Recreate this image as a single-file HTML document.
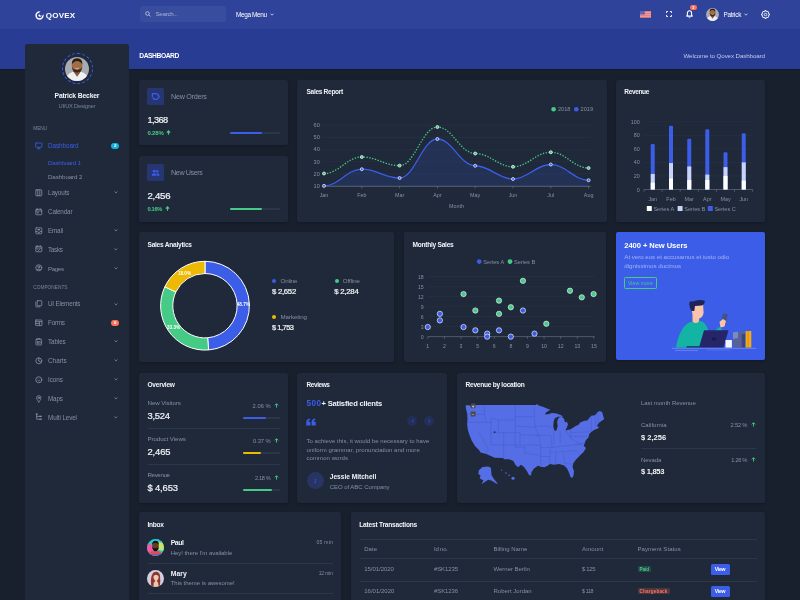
<!DOCTYPE html>
<html><head><meta charset="utf-8"><title>Qovex Dashboard</title>
<style>
html,body{margin:0;padding:0;}
body{width:800px;height:600px;overflow:hidden;background:#18202e;font-family:"Liberation Sans", sans-serif;position:relative;}
.t{position:absolute;white-space:nowrap;}
.b{position:absolute;}
svg{overflow:visible;}
svg text{font-family:"Liberation Sans", sans-serif;}
</style></head><body>
<header>
<div class="b" style="left:0px;top:0px;width:800px;height:68.8px;background:#283c94;"></div>
<div class="b" style="left:0px;top:0px;width:800px;height:28.5px;background:#2e4399;"></div>
<div class="b" style="left:0px;top:68.8px;width:800px;height:2.2px;background:linear-gradient(#121926,#18202e);"></div>
<svg class="b" style="left:34.5px;top:10.5px;" width="9" height="9" viewBox="0 0 9 9"><circle cx="4.5" cy="4.5" r="3.4" fill="none" stroke="#fff" stroke-width="1.5"/><circle cx="6.4" cy="2.4" r="2.3" fill="#2e4399"/><circle cx="5" cy="4.2" r="1.5" fill="#fff"/><circle cx="6" cy="3.3" r="1.4" fill="#2e4399"/></svg>
<div class="t" style="top:10px;height:12px;line-height:12px;font-size:8px;color:#fff;font-weight:700;letter-spacing:0.237px;left:45.8px;">QOVEX</div>
<div class="b" style="left:139.5px;top:6px;width:86.5px;height:16px;background:rgba(255,255,255,0.055);border-radius:2.5px;"></div>
<svg class="b" style="left:144.7px;top:11.4px;" width="6" height="6" viewBox="0 0 6 6"><circle cx="2.5" cy="2.5" r="1.8" fill="none" stroke="#c6cbe6" stroke-width="0.8"/><path d="M3.8 3.8L5.5 5.5" stroke="#c6cbe6" stroke-width="0.8"/></svg>
<div class="t" style="top:9px;height:10px;line-height:10px;font-size:6.2px;color:#a8b0dc;font-weight:400;letter-spacing:-0.289px;left:155.5px;">Search...</div>
<div class="t" style="top:10px;height:10px;line-height:10px;font-size:6.4px;color:#fff;font-weight:400;letter-spacing:-0.35px;left:236px;">Mega Menu</div>
<svg class="b" style="left:269.5px;top:13px;" width="4" height="3" viewBox="0 0 4 3"><path d="M0.5 0.7L2 2.2L3.5 0.7" fill="none" stroke="#fff" stroke-width="0.7"/></svg>
<svg class="b" style="left:640px;top:11px;" width="11" height="6.6" viewBox="0 0 11 6.6"><rect width="11" height="6.6" fill="#f2a6a6"/><rect y="0" width="11" height="0.9" fill="#e8706f"/><rect y="1.9" width="11" height="0.9" fill="#e8706f"/><rect y="3.8" width="11" height="0.9" fill="#e8706f"/><rect y="5.7" width="11" height="0.9" fill="#e8706f"/><rect width="4.8" height="3.6" fill="#5a67b8"/></svg>
<svg class="b" style="left:665.9px;top:11.1px;" width="6" height="6" viewBox="0 0 6 6"><path d="M0.5 2V0.5H2M4 0.5H5.5V2M5.5 4V5.5H4M2 5.5H0.5V4" fill="none" stroke="#fff" stroke-width="0.9"/></svg>
<svg class="b" style="left:685.5px;top:10.3px;" width="7" height="8.4" viewBox="0 0 7 8.4"><path d="M3.5 0.8C2 0.8 1.4 2 1.4 3.2V5L0.7 6.1H6.3L5.6 5V3.2C5.6 2 5 0.8 3.5 0.8Z" fill="none" stroke="#fff" stroke-width="1.1" stroke-linejoin="round"/><path d="M2.7 7.3Q3.5 8.1 4.3 7.3" stroke="#fff" stroke-width="0.9" fill="none"/></svg>
<div class="b" style="left:690.2px;top:5.3px;width:6.4px;height:4.6px;background:#ff715b;border-radius:2.3px;"></div>
<div class="t" style="top:4px;height:8px;line-height:8px;font-size:3.8px;color:#fff;font-weight:700;left:593.40px;width:200px;text-align:center;">3</div>
<div class="t" style="top:10px;height:10px;line-height:10px;font-size:6.4px;color:#fff;font-weight:400;letter-spacing:-0.26px;left:723.4px;">Patrick</div>
<svg class="b" style="left:744.3px;top:12.8px;" width="4" height="3" viewBox="0 0 4 3"><path d="M0.5 0.7L2 2.2L3.5 0.7" fill="none" stroke="#fff" stroke-width="0.7"/></svg>
<svg class="b" style="left:761px;top:9.7px;" width="9" height="9" viewBox="0 0 9 9"><path d="M7.40 3.73 L8.46 3.90 L8.46 5.10 L7.40 5.27 L7.10 6.00 L7.72 6.87 L6.87 7.72 L6.00 7.10 L5.27 7.40 L5.10 8.46 L3.90 8.46 L3.73 7.40 L3.00 7.10 L2.13 7.72 L1.28 6.87 L1.90 6.00 L1.60 5.27 L0.54 5.10 L0.54 3.90 L1.60 3.73 L1.90 3.00 L1.28 2.13 L2.13 1.28 L3.00 1.90 L3.73 1.60 L3.90 0.54 L5.10 0.54 L5.27 1.60 L6.00 1.90 L6.87 1.28 L7.72 2.13 L7.10 3.00Z" fill="none" stroke="#fff" stroke-width="0.95" stroke-linejoin="round"/><circle cx="4.5" cy="4.5" r="1.25" fill="none" stroke="#fff" stroke-width="0.8"/></svg>
<div class="t" style="top:50px;height:11px;line-height:11px;font-size:6.69px;color:#fff;font-weight:700;letter-spacing:-0.432px;left:139.3px;">DASHBOARD</div>
<div class="t" style="top:51px;height:10px;line-height:10px;font-size:6.2px;color:#c3c9ea;font-weight:400;letter-spacing:-0.103px;right:35.10px;text-align:right;">Welcome to Qovex Dashboard</div>
</header>
<aside>
<div class="b" style="left:25.2px;top:44.2px;width:103.5px;height:560px;background:#1f293a;border-radius:2.5px 2.5px 0 0;"></div>
<div class="b" style="left:61.5px;top:52.8px;width:31px;height:31px;box-sizing:border-box;border-radius:50%;border:1px dashed #3b5de7;"></div>
<svg class="b" style="left:65px;top:56.5px;" width="24" height="24" viewBox="0 0 24 24"><defs><clipPath id="cpa"><circle cx="12" cy="12" r="12"/></clipPath></defs><g clip-path="url(#cpa)"><rect width="24" height="24" fill="#a7abb2"/><path d="M0 24L1.2 19.2Q4.5 15.6 8.6 14.6L12.1 19.6L15.6 14.6Q19.6 15.6 22.8 19.2L24 24Z" fill="#eef0f3"/><path d="M8.4 14.4L12.1 19.8L15.8 14.4L15 11H9.2Z" fill="#8c5b3d"/><ellipse cx="12.1" cy="8.4" rx="5.3" ry="6.9" fill="#a36b46"/><path d="M6.8 7.4Q6.6 1.2 12.1 1.2Q17.6 1.2 17.4 7.4Q15.4 3.9 12.1 3.9Q8.8 3.9 6.8 7.4Z" fill="#2a1c15"/><path d="M6.9 9.4Q7.3 15.6 12.1 15.6Q16.9 15.6 17.3 9.4Q16 12.9 12.1 12.6Q8.2 12.9 6.9 9.4Z" fill="#3d281a"/><path d="M10.5 11.3Q12.1 12.7 13.7 11.3" stroke="#f2e8e0" stroke-width="0.8" fill="none"/></g></svg>
<svg class="b" style="left:705.9px;top:7.5px;" width="13" height="13" viewBox="0 0 24 24"><defs><clipPath id="cpb"><circle cx="12" cy="12" r="12"/></clipPath></defs><g clip-path="url(#cpb)"><rect width="24" height="24" fill="#a7abb2"/><path d="M0 24L1.2 19.2Q4.5 15.6 8.6 14.6L12.1 19.6L15.6 14.6Q19.6 15.6 22.8 19.2L24 24Z" fill="#eef0f3"/><path d="M8.4 14.4L12.1 19.8L15.8 14.4L15 11H9.2Z" fill="#8c5b3d"/><ellipse cx="12.1" cy="8.4" rx="5.3" ry="6.9" fill="#a36b46"/><path d="M6.8 7.4Q6.6 1.2 12.1 1.2Q17.6 1.2 17.4 7.4Q15.4 3.9 12.1 3.9Q8.8 3.9 6.8 7.4Z" fill="#2a1c15"/><path d="M6.9 9.4Q7.3 15.6 12.1 15.6Q16.9 15.6 17.3 9.4Q16 12.9 12.1 12.6Q8.2 12.9 6.9 9.4Z" fill="#3d281a"/><path d="M10.5 11.3Q12.1 12.7 13.7 11.3" stroke="#f2e8e0" stroke-width="0.8" fill="none"/></g></svg>
<div class="t" style="top:90px;height:11px;line-height:11px;font-size:6.8px;color:#f1f3f7;font-weight:700;letter-spacing:-0.174px;left:-23.09px;width:200px;text-align:center;">Patrick Becker</div>
<div class="t" style="top:101px;height:10px;line-height:10px;font-size:5.8px;color:#7a849a;font-weight:400;letter-spacing:-0.253px;left:-23.13px;width:200px;text-align:center;">UI/UX Designer</div>
<div class="t" style="top:124px;height:9px;line-height:9px;font-size:4.8px;color:#7a849a;font-weight:400;letter-spacing:-0.128px;left:33.3px;">MENU</div>
<div class="t" style="top:283px;height:9px;line-height:9px;font-size:4.8px;color:#7a849a;font-weight:400;letter-spacing:-0.017px;left:33.3px;">COMPONENTS</div>
<svg class="b" style="left:35.2px;top:141.7px;" width="7.6" height="7.6" viewBox="0 0 9 9"><rect x="0.8" y="1.2" width="7.4" height="5" rx="0.5" fill="none" stroke="#3b5de7" stroke-width="0.95" stroke-linejoin="round" stroke-linecap="round"/><path d="M3 8H6M4.5 6.3V8" fill="none" stroke="#3b5de7" stroke-width="0.95" stroke-linejoin="round" stroke-linecap="round"/></svg>
<div class="t" style="top:141px;height:10px;line-height:10px;font-size:6.3px;color:#3b5de7;font-weight:400;letter-spacing:-0.04px;left:48px;">Dashboard</div>
<svg class="b" style="left:35.2px;top:188.7px;" width="7.6" height="7.6" viewBox="0 0 9 9"><rect x="1" y="1" width="7" height="7" rx="0.4" fill="none" stroke="#8590a5" stroke-width="0.95" stroke-linejoin="round" stroke-linecap="round"/><path d="M3.3 1V8M5.7 1V8" fill="none" stroke="#8590a5" stroke-width="0.95" stroke-linejoin="round" stroke-linecap="round"/></svg>
<div class="t" style="top:188px;height:10px;line-height:10px;font-size:6.3px;color:#8590a5;font-weight:400;letter-spacing:-0.094px;left:48px;">Layouts</div>
<svg class="b" style="left:113.9px;top:191.3px;" width="3.8" height="3" viewBox="0 0 3.8 3"><path d="M0.5 0.5L1.9 1.9L3.3 0.5" fill="none" stroke="#76819a" stroke-width="0.95"/></svg>
<svg class="b" style="left:35.2px;top:207.5px;" width="7.6" height="7.6" viewBox="0 0 9 9"><rect x="1" y="1.6" width="7" height="6.4" rx="0.5" fill="none" stroke="#8590a5" stroke-width="0.95" stroke-linejoin="round" stroke-linecap="round"/><path d="M1 3.6H8M2.8 0.8V2M6.2 0.8V2" fill="none" stroke="#8590a5" stroke-width="0.95" stroke-linejoin="round" stroke-linecap="round"/><rect x="2.6" y="4.8" width="1.6" height="1.6" fill="#8590a5"/></svg>
<div class="t" style="top:207px;height:10px;line-height:10px;font-size:6.3px;color:#8590a5;font-weight:400;letter-spacing:-0.152px;left:48px;">Calendar</div>
<svg class="b" style="left:35.2px;top:226.5px;" width="7.6" height="7.6" viewBox="0 0 9 9"><rect x="1" y="1" width="7" height="7" rx="0.5" fill="none" stroke="#8590a5" stroke-width="0.95" stroke-linejoin="round" stroke-linecap="round"/><path d="M1 5.4H3L3.5 6.4H5.5L6 5.4H8" fill="none" stroke="#8590a5" stroke-width="0.95" stroke-linejoin="round" stroke-linecap="round"/><rect x="3" y="2.4" width="3" height="1.6" fill="#8590a5"/></svg>
<div class="t" style="top:226px;height:10px;line-height:10px;font-size:6.3px;color:#8590a5;font-weight:400;letter-spacing:-0.188px;left:48px;">Email</div>
<svg class="b" style="left:113.9px;top:229.10000000000002px;" width="3.8" height="3" viewBox="0 0 3.8 3"><path d="M0.5 0.5L1.9 1.9L3.3 0.5" fill="none" stroke="#76819a" stroke-width="0.95"/></svg>
<svg class="b" style="left:35.2px;top:245.39999999999998px;" width="7.6" height="7.6" viewBox="0 0 9 9"><rect x="1" y="1.6" width="7" height="6.4" rx="0.5" fill="none" stroke="#8590a5" stroke-width="0.95" stroke-linejoin="round" stroke-linecap="round"/><path d="M1 3.6H8M2.8 0.8V2M6.2 0.8V2M3.2 5.6L4.2 6.6L6 4.8" fill="none" stroke="#8590a5" stroke-width="0.95" stroke-linejoin="round" stroke-linecap="round"/></svg>
<div class="t" style="top:245px;height:10px;line-height:10px;font-size:6.3px;color:#8590a5;font-weight:400;letter-spacing:-0.276px;left:48px;">Tasks</div>
<svg class="b" style="left:113.9px;top:248.0px;" width="3.8" height="3" viewBox="0 0 3.8 3"><path d="M0.5 0.5L1.9 1.9L3.3 0.5" fill="none" stroke="#76819a" stroke-width="0.95"/></svg>
<svg class="b" style="left:35.2px;top:264.4px;" width="7.6" height="7.6" viewBox="0 0 9 9"><circle cx="4.5" cy="4.5" r="3.6" fill="none" stroke="#8590a5" stroke-width="0.95" stroke-linejoin="round" stroke-linecap="round"/><circle cx="4.5" cy="3.6" r="1.2" fill="none" stroke="#8590a5" stroke-width="0.95" stroke-linejoin="round" stroke-linecap="round"/><path d="M2.3 7Q4.5 4.6 6.7 7" fill="none" stroke="#8590a5" stroke-width="0.95" stroke-linejoin="round" stroke-linecap="round"/></svg>
<div class="t" style="top:264px;height:10px;line-height:10px;font-size:6.18px;color:#8590a5;font-weight:400;letter-spacing:-0.378px;left:48px;">Pages</div>
<svg class="b" style="left:113.9px;top:267.0px;" width="3.8" height="3" viewBox="0 0 3.8 3"><path d="M0.5 0.5L1.9 1.9L3.3 0.5" fill="none" stroke="#76819a" stroke-width="0.95"/></svg>
<svg class="b" style="left:35.2px;top:300.2px;" width="7.6" height="7.6" viewBox="0 0 9 9"><rect x="2.6" y="0.8" width="5.4" height="6" rx="0.5" fill="none" stroke="#8590a5" stroke-width="0.95" stroke-linejoin="round" stroke-linecap="round"/><path d="M1 2.4V7.6Q1 8.2 1.6 8.2H6" fill="none" stroke="#8590a5" stroke-width="0.95" stroke-linejoin="round" stroke-linecap="round"/></svg>
<div class="t" style="top:299px;height:10px;line-height:10px;font-size:6.3px;color:#8590a5;font-weight:400;letter-spacing:-0.181px;left:48px;">UI Elements</div>
<svg class="b" style="left:113.9px;top:302.8px;" width="3.8" height="3" viewBox="0 0 3.8 3"><path d="M0.5 0.5L1.9 1.9L3.3 0.5" fill="none" stroke="#76819a" stroke-width="0.95"/></svg>
<svg class="b" style="left:35.2px;top:318.9px;" width="7.6" height="7.6" viewBox="0 0 9 9"><rect x="0.8" y="1.2" width="7.4" height="6.6" rx="0.4" fill="none" stroke="#8590a5" stroke-width="0.95" stroke-linejoin="round" stroke-linecap="round"/><path d="M0.8 3.2H8.2M5.2 3.2V7.8M0.8 5.4H5.2" fill="none" stroke="#8590a5" stroke-width="0.95" stroke-linejoin="round" stroke-linecap="round"/></svg>
<div class="t" style="top:318px;height:10px;line-height:10px;font-size:6.3px;color:#8590a5;font-weight:400;letter-spacing:-0.212px;left:48px;">Forms</div>
<svg class="b" style="left:35.2px;top:337.8px;" width="7.6" height="7.6" viewBox="0 0 9 9"><rect x="1.2" y="1.4" width="6.6" height="6.8" rx="0.5" fill="none" stroke="#8590a5" stroke-width="0.95" stroke-linejoin="round" stroke-linecap="round"/><path d="M3 1.4V0.8H6V1.4M3 4V6.4M4.5 4V6.4M6 4V6.4" fill="none" stroke="#8590a5" stroke-width="0.95" stroke-linejoin="round" stroke-linecap="round"/></svg>
<div class="t" style="top:337px;height:10px;line-height:10px;font-size:6.3px;color:#8590a5;font-weight:400;letter-spacing:-0.092px;left:48px;">Tables</div>
<svg class="b" style="left:113.9px;top:340.40000000000003px;" width="3.8" height="3" viewBox="0 0 3.8 3"><path d="M0.5 0.5L1.9 1.9L3.3 0.5" fill="none" stroke="#76819a" stroke-width="0.95"/></svg>
<svg class="b" style="left:35.2px;top:356.7px;" width="7.6" height="7.6" viewBox="0 0 9 9"><circle cx="4.5" cy="4.5" r="3.5" fill="none" stroke="#8590a5" stroke-width="0.95" stroke-linejoin="round" stroke-linecap="round" stroke-width="1.2"/><path d="M4.5 4.5V1M4.5 4.5L7.2 6.6" fill="none" stroke="#8590a5" stroke-width="0.95" stroke-linejoin="round" stroke-linecap="round"/></svg>
<div class="t" style="top:356px;height:10px;line-height:10px;font-size:6.3px;color:#8590a5;font-weight:400;letter-spacing:0.039px;left:48px;">Charts</div>
<svg class="b" style="left:113.9px;top:359.3px;" width="3.8" height="3" viewBox="0 0 3.8 3"><path d="M0.5 0.5L1.9 1.9L3.3 0.5" fill="none" stroke="#76819a" stroke-width="0.95"/></svg>
<svg class="b" style="left:35.2px;top:375.59999999999997px;" width="7.6" height="7.6" viewBox="0 0 9 9"><circle cx="4.5" cy="4.5" r="3.6" fill="none" stroke="#8590a5" stroke-width="0.95" stroke-linejoin="round" stroke-linecap="round"/><path d="M2.8 5.2Q4.5 7.2 6.2 5.2Z" fill="#8590a5" stroke="none"/><circle cx="3.2" cy="3.6" r="0.5" fill="#8590a5"/><circle cx="5.8" cy="3.6" r="0.5" fill="#8590a5"/></svg>
<div class="t" style="top:375px;height:10px;line-height:10px;font-size:6.3px;color:#8590a5;font-weight:400;letter-spacing:-0.014px;left:48px;">Icons</div>
<svg class="b" style="left:113.9px;top:378.2px;" width="3.8" height="3" viewBox="0 0 3.8 3"><path d="M0.5 0.5L1.9 1.9L3.3 0.5" fill="none" stroke="#76819a" stroke-width="0.95"/></svg>
<svg class="b" style="left:35.2px;top:394.5px;" width="7.6" height="7.6" viewBox="0 0 9 9"><path d="M4.5 8.3C4.5 8.3 1.9 5.4 1.9 3.4A2.6 2.6 0 0 1 7.1 3.4C7.1 5.4 4.5 8.3 4.5 8.3Z" fill="none" stroke="#8590a5" stroke-width="0.95" stroke-linejoin="round" stroke-linecap="round"/><circle cx="4.5" cy="3.4" r="0.9" fill="none" stroke="#8590a5" stroke-width="0.95" stroke-linejoin="round" stroke-linecap="round"/></svg>
<div class="t" style="top:394px;height:10px;line-height:10px;font-size:6.3px;color:#8590a5;font-weight:400;letter-spacing:-0.135px;left:48px;">Maps</div>
<svg class="b" style="left:113.9px;top:397.1px;" width="3.8" height="3" viewBox="0 0 3.8 3"><path d="M0.5 0.5L1.9 1.9L3.3 0.5" fill="none" stroke="#76819a" stroke-width="0.95"/></svg>
<svg class="b" style="left:35.2px;top:413.4px;" width="7.6" height="7.6" viewBox="0 0 9 9"><path d="M2 1V7.4H4.6M2 4H4.6" fill="none" stroke="#8590a5" stroke-width="0.95" stroke-linejoin="round" stroke-linecap="round"/><rect x="1" y="0.6" width="2" height="1.6" fill="#8590a5"/><rect x="5" y="3.2" width="3" height="1.6" fill="#8590a5"/><rect x="5" y="6.6" width="3" height="1.6" fill="#8590a5"/></svg>
<div class="t" style="top:413px;height:10px;line-height:10px;font-size:6.3px;color:#8590a5;font-weight:400;letter-spacing:-0.111px;left:48px;">Multi Level</div>
<svg class="b" style="left:113.9px;top:416.0px;" width="3.8" height="3" viewBox="0 0 3.8 3"><path d="M0.5 0.5L1.9 1.9L3.3 0.5" fill="none" stroke="#76819a" stroke-width="0.95"/></svg>
<div class="t" style="top:158px;height:10px;line-height:10px;font-size:6.2px;color:#3b5de7;font-weight:400;letter-spacing:-0.25px;left:48px;">Dashboard 1</div>
<div class="t" style="top:172px;height:10px;line-height:10px;font-size:6.2px;color:#8590a5;font-weight:400;letter-spacing:-0.1px;left:48px;">Dashboard 2</div>
<div class="b" style="left:111.2px;top:142.6px;width:8.2px;height:6px;background:#12b0e2;border-radius:3px;"></div>
<div class="t" style="top:142px;height:8px;line-height:8px;font-size:4.4px;color:#fff;font-weight:700;left:15.30px;width:200px;text-align:center;">2</div>
<div class="b" style="left:111.2px;top:319.8px;width:8.2px;height:6px;background:#ff715b;border-radius:3px;"></div>
<div class="t" style="top:319px;height:8px;line-height:8px;font-size:4.4px;color:#fff;font-weight:700;left:15.30px;width:200px;text-align:center;">6</div>
</aside>
<main><section>
<div class="b" style="left:139.25px;top:80px;width:149px;height:65.2px;background:#1f293a;border-radius:2px;box-shadow:0 1px 2.5px rgba(8,12,20,0.35);"></div>
<div class="b" style="left:147.3px;top:88px;width:16.6px;height:16.6px;background:#273572;border-radius:1.5px;"></div>
<svg class="b" style="left:151px;top:91.8px;" width="9" height="9" viewBox="0 0 8 8"><path d="M1.2 1.4H5.2L7.4 4L5.2 6.6H2.6" fill="none" stroke="#3b5de7" stroke-width="1.1" stroke-linejoin="round"/><path d="M1.2 1.4V4.6" stroke="#3b5de7" stroke-width="1.1"/><circle cx="2.2" cy="5.8" r="0.9" fill="#3b5de7"/></svg>
<div class="t" style="top:91px;height:11px;line-height:11px;font-size:7.2px;color:#8590a5;font-weight:400;letter-spacing:-0.268px;left:171px;">New Orders</div>
<div class="t" style="top:114px;height:13px;line-height:13px;font-size:9.21px;color:#f1f3f7;font-weight:400;letter-spacing:-0.576px;left:147.5px;-webkit-text-stroke:0.22px #f1f3f7;">1,368</div>
<div class="t" style="top:128px;height:10px;line-height:10px;font-size:6px;color:#45cb85;font-weight:700;letter-spacing:-0.191px;left:147.5px;">0.28%</div>
<svg class="b" style="left:165.95px;top:130.4px;" width="5" height="5" viewBox="0 0 5 5"><path d="M2.5 4.7V1M0.8 2.6L2.5 0.9L4.2 2.6" fill="none" stroke="#45cb85" stroke-width="1.15"/></svg>
<div class="b" style="left:230px;top:132px;width:50px;height:2px;background:#2b3648;border-radius:1px;"></div>
<div class="b" style="left:230px;top:132px;width:31.5px;height:2px;background:#3b5de7;border-radius:1px;"></div>
<div class="b" style="left:139.25px;top:156.3px;width:149px;height:65.9px;background:#1f293a;border-radius:2px;box-shadow:0 1px 2.5px rgba(8,12,20,0.35);"></div>
<div class="b" style="left:147.3px;top:164px;width:16.6px;height:16.6px;background:#273572;border-radius:1.5px;"></div>
<svg class="b" style="left:151px;top:167.8px;" width="9" height="9" viewBox="0 0 8 8"><circle cx="2.8" cy="2.8" r="1.3" fill="#3b5de7"/><circle cx="5.6" cy="2.8" r="1.1" fill="#3b5de7"/><path d="M0.6 6.8Q0.6 4.6 2.8 4.6Q5 4.6 5 6.8Z" fill="#3b5de7"/><path d="M5.4 6.8Q5.6 5 4.8 4.6Q7.6 4.2 7.6 6.8Z" fill="#3b5de7"/></svg>
<div class="t" style="top:167px;height:11px;line-height:11px;font-size:7.2px;color:#8590a5;font-weight:400;letter-spacing:-0.401px;left:171px;">New Users</div>
<div class="t" style="top:189px;height:14px;line-height:14px;font-size:9.6px;color:#f1f3f7;font-weight:400;letter-spacing:-0.256px;left:147.5px;-webkit-text-stroke:0.22px #f1f3f7;">2,456</div>
<div class="t" style="top:204px;height:10px;line-height:10px;font-size:5.8px;color:#45cb85;font-weight:700;letter-spacing:-0.36px;left:147.5px;">0.16%</div>
<svg class="b" style="left:164.7px;top:206.4px;" width="5" height="5" viewBox="0 0 5 5"><path d="M2.5 4.7V1M0.8 2.6L2.5 0.9L4.2 2.6" fill="none" stroke="#45cb85" stroke-width="1.15"/></svg>
<div class="b" style="left:230px;top:208px;width:50px;height:2px;background:#2b3648;border-radius:1px;"></div>
<div class="b" style="left:230px;top:208px;width:31.5px;height:2px;background:#45cb85;border-radius:1px;"></div>
<div class="b" style="left:297.25px;top:80px;width:309.25px;height:142.2px;background:#1f293a;border-radius:2px;box-shadow:0 1px 2.5px rgba(8,12,20,0.35);"></div>
<div class="t" style="top:86px;height:11px;line-height:11px;font-size:6.6px;color:#f1f3f7;font-weight:700;letter-spacing:-0.327px;left:306.5px;">Sales Report</div>
<svg class="b" style="left:0px;top:0px;" width="800" height="600" viewBox="0 0 800 600"><line x1="322" x2="590.5" y1="186.00" y2="186.00" stroke="#2c3749" stroke-width="0.5"/><text x="319.8" y="188.00" font-size="5.6" fill="#8590a5" text-anchor="end">10</text><line x1="322" x2="590.5" y1="173.83" y2="173.83" stroke="#2c3749" stroke-width="0.5"/><text x="319.8" y="175.83" font-size="5.6" fill="#8590a5" text-anchor="end">20</text><line x1="322" x2="590.5" y1="161.66" y2="161.66" stroke="#2c3749" stroke-width="0.5"/><text x="319.8" y="163.66" font-size="5.6" fill="#8590a5" text-anchor="end">30</text><line x1="322" x2="590.5" y1="149.49" y2="149.49" stroke="#2c3749" stroke-width="0.5"/><text x="319.8" y="151.49" font-size="5.6" fill="#8590a5" text-anchor="end">40</text><line x1="322" x2="590.5" y1="137.32" y2="137.32" stroke="#2c3749" stroke-width="0.5"/><text x="319.8" y="139.32" font-size="5.6" fill="#8590a5" text-anchor="end">50</text><line x1="322" x2="590.5" y1="125.15" y2="125.15" stroke="#2c3749" stroke-width="0.5"/><text x="319.8" y="127.15" font-size="5.6" fill="#8590a5" text-anchor="end">60</text><line x1="322" x2="590.5" y1="186.3" y2="186.3" stroke="#7f8798" stroke-width="0.6"/><line x1="324.00" x2="324.00" y1="186.3" y2="188.5" stroke="#7f8798" stroke-width="0.5"/><text x="324.00" y="197.2" font-size="5.4" fill="#8590a5" text-anchor="middle">Jan</text><line x1="361.80" x2="361.80" y1="186.3" y2="188.5" stroke="#7f8798" stroke-width="0.5"/><text x="361.80" y="197.2" font-size="5.4" fill="#8590a5" text-anchor="middle">Feb</text><line x1="399.60" x2="399.60" y1="186.3" y2="188.5" stroke="#7f8798" stroke-width="0.5"/><text x="399.60" y="197.2" font-size="5.4" fill="#8590a5" text-anchor="middle">Mar</text><line x1="437.40" x2="437.40" y1="186.3" y2="188.5" stroke="#7f8798" stroke-width="0.5"/><text x="437.40" y="197.2" font-size="5.4" fill="#8590a5" text-anchor="middle">Apr</text><line x1="475.20" x2="475.20" y1="186.3" y2="188.5" stroke="#7f8798" stroke-width="0.5"/><text x="475.20" y="197.2" font-size="5.4" fill="#8590a5" text-anchor="middle">May</text><line x1="513.00" x2="513.00" y1="186.3" y2="188.5" stroke="#7f8798" stroke-width="0.5"/><text x="513.00" y="197.2" font-size="5.4" fill="#8590a5" text-anchor="middle">Jun</text><line x1="550.80" x2="550.80" y1="186.3" y2="188.5" stroke="#7f8798" stroke-width="0.5"/><text x="550.80" y="197.2" font-size="5.4" fill="#8590a5" text-anchor="middle">Jul</text><line x1="588.60" x2="588.60" y1="186.3" y2="188.5" stroke="#7f8798" stroke-width="0.5"/><text x="588.60" y="197.2" font-size="5.4" fill="#8590a5" text-anchor="middle">Aug</text><text x="456.5" y="208" font-size="5.4" fill="#8590a5" text-anchor="middle">Month</text><path d="M324.00 185.80 C339.12 185.80 346.68 169.20 361.80 169.20 C376.92 169.20 384.48 178.00 399.60 178.00 C414.72 178.00 422.28 139.00 437.40 139.00 C452.52 139.00 460.08 165.75 475.20 165.75 C490.32 165.75 497.88 179.00 513.00 179.00 C528.12 179.00 535.68 164.50 550.80 164.50 C565.92 164.50 573.48 180.25 588.60 180.25 L588.60 186 L324.00 186 Z" fill="rgba(59,93,231,0.16)"/><path d="M324.00 185.80 C339.12 185.80 346.68 169.20 361.80 169.20 C376.92 169.20 384.48 178.00 399.60 178.00 C414.72 178.00 422.28 139.00 437.40 139.00 C452.52 139.00 460.08 165.75 475.20 165.75 C490.32 165.75 497.88 179.00 513.00 179.00 C528.12 179.00 535.68 164.50 550.80 164.50 C565.92 164.50 573.48 180.25 588.60 180.25" fill="none" stroke="#3b5de7" stroke-width="1.3"/><path d="M324.00 173.50 C339.12 173.50 346.68 157.00 361.80 157.00 C376.92 157.00 384.48 165.60 399.60 165.60 C414.72 165.60 422.28 127.00 437.40 127.00 C452.52 127.00 460.08 153.50 475.20 153.50 C490.32 153.50 497.88 166.75 513.00 166.75 C528.12 166.75 535.68 152.25 550.80 152.25 C565.92 152.25 573.48 168.00 588.60 168.00" fill="none" stroke="#45cb85" stroke-width="1.3" stroke-dasharray="1.4 1.5"/><circle cx="324.00" cy="185.80" r="1.5" fill="#3b5de7" stroke="#fff" stroke-width="0.7"/><circle cx="361.80" cy="169.20" r="1.5" fill="#3b5de7" stroke="#fff" stroke-width="0.7"/><circle cx="399.60" cy="178.00" r="1.5" fill="#3b5de7" stroke="#fff" stroke-width="0.7"/><circle cx="437.40" cy="139.00" r="1.5" fill="#3b5de7" stroke="#fff" stroke-width="0.7"/><circle cx="475.20" cy="165.75" r="1.5" fill="#3b5de7" stroke="#fff" stroke-width="0.7"/><circle cx="513.00" cy="179.00" r="1.5" fill="#3b5de7" stroke="#fff" stroke-width="0.7"/><circle cx="550.80" cy="164.50" r="1.5" fill="#3b5de7" stroke="#fff" stroke-width="0.7"/><circle cx="588.60" cy="180.25" r="1.5" fill="#3b5de7" stroke="#fff" stroke-width="0.7"/><circle cx="324.00" cy="173.50" r="1.5" fill="#45cb85" stroke="#fff" stroke-width="0.7"/><circle cx="361.80" cy="157.00" r="1.5" fill="#45cb85" stroke="#fff" stroke-width="0.7"/><circle cx="399.60" cy="165.60" r="1.5" fill="#45cb85" stroke="#fff" stroke-width="0.7"/><circle cx="437.40" cy="127.00" r="1.5" fill="#45cb85" stroke="#fff" stroke-width="0.7"/><circle cx="475.20" cy="153.50" r="1.5" fill="#45cb85" stroke="#fff" stroke-width="0.7"/><circle cx="513.00" cy="166.75" r="1.5" fill="#45cb85" stroke="#fff" stroke-width="0.7"/><circle cx="550.80" cy="152.25" r="1.5" fill="#45cb85" stroke="#fff" stroke-width="0.7"/><circle cx="588.60" cy="168.00" r="1.5" fill="#45cb85" stroke="#fff" stroke-width="0.7"/><circle cx="553.6" cy="109.3" r="2.3" fill="#45cb85"/><text x="558" y="111.3" font-size="5.6" fill="#8590a5">2018</text><circle cx="576.3" cy="109.3" r="2.3" fill="#3b5de7"/><text x="580.6" y="111.3" font-size="5.6" fill="#8590a5">2019</text></svg>
<div class="b" style="left:615.5px;top:80px;width:149.5px;height:142.2px;background:#1f293a;border-radius:2px;box-shadow:0 1px 2.5px rgba(8,12,20,0.35);"></div>
<div class="t" style="top:86px;height:11px;line-height:11px;font-size:6.57px;color:#f1f3f7;font-weight:700;letter-spacing:-0.396px;left:624.3px;">Revenue</div>
<svg class="b" style="left:0px;top:0px;" width="800" height="600" viewBox="0 0 800 600"><line x1="644" x2="752.5" y1="189.50" y2="189.50" stroke="#7f8798" stroke-width="0.5"/><text x="639.7" y="191.50" font-size="5.4" fill="#8590a5" text-anchor="end">0</text><line x1="644" x2="752.5" y1="175.95" y2="175.95" stroke="#2c3749" stroke-width="0.5"/><text x="639.7" y="177.95" font-size="5.4" fill="#8590a5" text-anchor="end">20</text><line x1="644" x2="752.5" y1="162.40" y2="162.40" stroke="#2c3749" stroke-width="0.5"/><text x="639.7" y="164.40" font-size="5.4" fill="#8590a5" text-anchor="end">40</text><line x1="644" x2="752.5" y1="148.85" y2="148.85" stroke="#2c3749" stroke-width="0.5"/><text x="639.7" y="150.85" font-size="5.4" fill="#8590a5" text-anchor="end">60</text><line x1="644" x2="752.5" y1="135.30" y2="135.30" stroke="#2c3749" stroke-width="0.5"/><text x="639.7" y="137.30" font-size="5.4" fill="#8590a5" text-anchor="end">80</text><line x1="644" x2="752.5" y1="121.75" y2="121.75" stroke="#2c3749" stroke-width="0.5"/><text x="639.7" y="123.75" font-size="5.4" fill="#8590a5" text-anchor="end">100</text><rect x="650.75" y="144.11" width="4" height="45.39" rx="1.2" fill="#3b5de7"/><rect x="650.75" y="173.92" width="4" height="15.58" fill="#c9d3f8"/><rect x="650.75" y="182.72" width="4" height="6.78" fill="#ffffff"/><text x="652.75" y="201" font-size="5.4" fill="#8590a5" text-anchor="middle">Jan</text><rect x="669.00" y="125.81" width="4" height="63.69" rx="1.2" fill="#3b5de7"/><rect x="669.00" y="163.08" width="4" height="26.42" fill="#c9d3f8"/><rect x="669.00" y="178.66" width="4" height="10.84" fill="#ffffff"/><text x="671.00" y="201" font-size="5.4" fill="#8590a5" text-anchor="middle">Feb</text><rect x="687.25" y="138.69" width="4" height="50.81" rx="1.2" fill="#3b5de7"/><rect x="687.25" y="166.47" width="4" height="23.04" fill="#c9d3f8"/><rect x="687.25" y="180.01" width="4" height="9.48" fill="#ffffff"/><text x="689.25" y="201" font-size="5.4" fill="#8590a5" text-anchor="middle">Mar</text><rect x="705.30" y="129.20" width="4" height="60.30" rx="1.2" fill="#3b5de7"/><rect x="705.30" y="174.59" width="4" height="14.90" fill="#c9d3f8"/><rect x="705.30" y="180.01" width="4" height="9.48" fill="#ffffff"/><text x="707.30" y="201" font-size="5.4" fill="#8590a5" text-anchor="middle">Apr</text><rect x="723.50" y="152.24" width="4" height="37.26" rx="1.2" fill="#3b5de7"/><rect x="723.50" y="167.14" width="4" height="22.36" fill="#c9d3f8"/><rect x="723.50" y="175.95" width="4" height="13.55" fill="#ffffff"/><text x="725.50" y="201" font-size="5.4" fill="#8590a5" text-anchor="middle">May</text><rect x="741.75" y="133.27" width="4" height="56.23" rx="1.2" fill="#3b5de7"/><rect x="741.75" y="162.40" width="4" height="27.10" fill="#c9d3f8"/><rect x="741.75" y="180.69" width="4" height="8.81" fill="#ffffff"/><text x="743.75" y="201" font-size="5.4" fill="#8590a5" text-anchor="middle">Jun</text><line x1="644.00" x2="644.00" y1="189.5" y2="191.8" stroke="#7f8798" stroke-width="0.5"/><line x1="662.10" x2="662.10" y1="189.5" y2="191.8" stroke="#7f8798" stroke-width="0.5"/><line x1="680.20" x2="680.20" y1="189.5" y2="191.8" stroke="#7f8798" stroke-width="0.5"/><line x1="698.30" x2="698.30" y1="189.5" y2="191.8" stroke="#7f8798" stroke-width="0.5"/><line x1="716.40" x2="716.40" y1="189.5" y2="191.8" stroke="#7f8798" stroke-width="0.5"/><line x1="734.50" x2="734.50" y1="189.5" y2="191.8" stroke="#7f8798" stroke-width="0.5"/><line x1="752.60" x2="752.60" y1="189.5" y2="191.8" stroke="#7f8798" stroke-width="0.5"/><rect x="646.8" y="206" width="5" height="5" rx="0.6" fill="#fff"/><text x="653.4" y="210.5" font-size="5.6" fill="#8590a5">Series A</text><rect x="677.6" y="206" width="5" height="5" rx="0.6" fill="#c9d3f8"/><text x="684.2" y="210.5" font-size="5.6" fill="#8590a5">Series B</text><rect x="707.8" y="206" width="5" height="5" rx="0.6" fill="#3b5de7"/><text x="714.4" y="210.5" font-size="5.6" fill="#8590a5">Series C</text></svg>
</section>
<section>
<div class="b" style="left:139.25px;top:232px;width:255px;height:130.3px;background:#1f293a;border-radius:2px;box-shadow:0 1px 2.5px rgba(8,12,20,0.35);"></div>
<div class="t" style="top:239px;height:11px;line-height:11px;font-size:6.6px;color:#f1f3f7;font-weight:700;letter-spacing:-0.263px;left:147.5px;">Sales Analytics</div>
<svg class="b" style="left:0px;top:0px;" width="800" height="600" viewBox="0 0 800 600"><path d="M205.00 261.30 A44.4 44.4 0 0 1 208.64 349.95 L207.64 337.79 A32.2 32.2 0 0 0 205.00 273.50 Z" fill="#3b5de7" stroke="#fff" stroke-width="1" stroke-linejoin="round"/><path d="M208.64 349.95 A44.4 44.4 0 0 1 164.83 286.80 L175.86 291.99 A32.2 32.2 0 0 0 207.64 337.79 Z" fill="#45cb85" stroke="#fff" stroke-width="1" stroke-linejoin="round"/><path d="M164.83 286.80 A44.4 44.4 0 0 1 205.00 261.30 L205.00 273.50 A32.2 32.2 0 0 0 175.86 291.99 Z" fill="#eeb902" stroke="#fff" stroke-width="1" stroke-linejoin="round"/><text x="243.27" y="305.70" font-size="4.6" font-weight="700" fill="#fff" text-anchor="middle">48.7%</text><text x="173.55" y="329.16" font-size="4.6" font-weight="700" fill="#fff" text-anchor="middle">33.3%</text><text x="184.48" y="274.96" font-size="4.6" font-weight="700" fill="#fff" text-anchor="middle">18.0%</text></svg>
<div class="b" style="left:272.2px;top:278.9px;width:4.2px;height:4.2px;background:#3b5de7;border-radius:50%;"></div>
<div class="t" style="top:276px;height:10px;line-height:10px;font-size:6.2px;color:#8590a5;font-weight:400;letter-spacing:-0.184px;left:280.5px;">Online</div>
<div class="t" style="top:286px;height:12px;line-height:12px;font-size:7.8px;color:#f1f3f7;font-weight:400;letter-spacing:-0.296px;left:272px;-webkit-text-stroke:0.22px #f1f3f7;">$ 2,652</div>
<div class="b" style="left:334.5px;top:278.9px;width:4.2px;height:4.2px;background:#45cb85;border-radius:50%;"></div>
<div class="t" style="top:276px;height:10px;line-height:10px;font-size:6.2px;color:#8590a5;font-weight:400;letter-spacing:-0.093px;left:342.8px;">Offline</div>
<div class="t" style="top:286px;height:12px;line-height:12px;font-size:7.8px;color:#f1f3f7;font-weight:400;letter-spacing:-0.254px;left:334.3px;-webkit-text-stroke:0.22px #f1f3f7;">$ 2,284</div>
<div class="b" style="left:272.2px;top:314.9px;width:4.2px;height:4.2px;background:#eeb902;border-radius:50%;"></div>
<div class="t" style="top:312px;height:10px;line-height:10px;font-size:6.2px;color:#8590a5;font-weight:400;letter-spacing:-0.09px;left:280.5px;">Marketing</div>
<div class="t" style="top:322px;height:11px;line-height:11px;font-size:7.44px;color:#f1f3f7;font-weight:400;letter-spacing:-0.468px;left:272px;-webkit-text-stroke:0.22px #f1f3f7;">$ 1,753</div>
<div class="b" style="left:403.7px;top:232px;width:202.8px;height:130.3px;background:#1f293a;border-radius:2px;box-shadow:0 1px 2.5px rgba(8,12,20,0.35);"></div>
<div class="t" style="top:239px;height:11px;line-height:11px;font-size:6.6px;color:#f1f3f7;font-weight:700;letter-spacing:-0.261px;left:412.5px;">Monthly Sales</div>
<svg class="b" style="left:0px;top:0px;" width="800" height="600" viewBox="0 0 800 600"><line x1="427.8" x2="594.5" y1="336.60" y2="336.60" stroke="#7f8798" stroke-width="0.5"/><text x="423.7" y="338.50" font-size="5.2" fill="#8590a5" text-anchor="end">0</text><line x1="427.8" x2="594.5" y1="326.62" y2="326.62" stroke="#2c3749" stroke-width="0.5"/><text x="423.7" y="328.52" font-size="5.2" fill="#8590a5" text-anchor="end">3</text><line x1="427.8" x2="594.5" y1="316.64" y2="316.64" stroke="#2c3749" stroke-width="0.5"/><text x="423.7" y="318.54" font-size="5.2" fill="#8590a5" text-anchor="end">6</text><line x1="427.8" x2="594.5" y1="306.66" y2="306.66" stroke="#2c3749" stroke-width="0.5"/><text x="423.7" y="308.56" font-size="5.2" fill="#8590a5" text-anchor="end">9</text><line x1="427.8" x2="594.5" y1="296.68" y2="296.68" stroke="#2c3749" stroke-width="0.5"/><text x="423.7" y="298.58" font-size="5.2" fill="#8590a5" text-anchor="end">12</text><line x1="427.8" x2="594.5" y1="286.70" y2="286.70" stroke="#2c3749" stroke-width="0.5"/><text x="423.7" y="288.60" font-size="5.2" fill="#8590a5" text-anchor="end">15</text><line x1="427.8" x2="594.5" y1="276.72" y2="276.72" stroke="#2c3749" stroke-width="0.5"/><text x="423.7" y="278.62" font-size="5.2" fill="#8590a5" text-anchor="end">18</text><line x1="427.80" x2="427.80" y1="336.6" y2="338.8" stroke="#7f8798" stroke-width="0.5"/><text x="427.80" y="347.8" font-size="5.2" fill="#8590a5" text-anchor="middle">1</text><line x1="444.41" x2="444.41" y1="336.6" y2="338.8" stroke="#7f8798" stroke-width="0.5"/><text x="444.41" y="347.8" font-size="5.2" fill="#8590a5" text-anchor="middle">2</text><line x1="461.02" x2="461.02" y1="336.6" y2="338.8" stroke="#7f8798" stroke-width="0.5"/><text x="461.02" y="347.8" font-size="5.2" fill="#8590a5" text-anchor="middle">3</text><line x1="477.63" x2="477.63" y1="336.6" y2="338.8" stroke="#7f8798" stroke-width="0.5"/><text x="477.63" y="347.8" font-size="5.2" fill="#8590a5" text-anchor="middle">5</text><line x1="494.24" x2="494.24" y1="336.6" y2="338.8" stroke="#7f8798" stroke-width="0.5"/><text x="494.24" y="347.8" font-size="5.2" fill="#8590a5" text-anchor="middle">6</text><line x1="510.85" x2="510.85" y1="336.6" y2="338.8" stroke="#7f8798" stroke-width="0.5"/><text x="510.85" y="347.8" font-size="5.2" fill="#8590a5" text-anchor="middle">8</text><line x1="527.46" x2="527.46" y1="336.6" y2="338.8" stroke="#7f8798" stroke-width="0.5"/><text x="527.46" y="347.8" font-size="5.2" fill="#8590a5" text-anchor="middle">9</text><line x1="544.07" x2="544.07" y1="336.6" y2="338.8" stroke="#7f8798" stroke-width="0.5"/><text x="544.07" y="347.8" font-size="5.2" fill="#8590a5" text-anchor="middle">10</text><line x1="560.68" x2="560.68" y1="336.6" y2="338.8" stroke="#7f8798" stroke-width="0.5"/><text x="560.68" y="347.8" font-size="5.2" fill="#8590a5" text-anchor="middle">12</text><line x1="577.29" x2="577.29" y1="336.6" y2="338.8" stroke="#7f8798" stroke-width="0.5"/><text x="577.29" y="347.8" font-size="5.2" fill="#8590a5" text-anchor="middle">13</text><line x1="593.90" x2="593.90" y1="336.6" y2="338.8" stroke="#7f8798" stroke-width="0.5"/><text x="593.90" y="347.8" font-size="5.2" fill="#8590a5" text-anchor="middle">15</text><circle cx="427.78" cy="327.04" r="2.65" fill="#3b5de7" stroke="#e8ecfb" stroke-width="0.7"/><circle cx="439.88" cy="313.83" r="2.65" fill="#3b5de7" stroke="#e8ecfb" stroke-width="0.7"/><circle cx="439.88" cy="320.43" r="2.65" fill="#3b5de7" stroke="#e8ecfb" stroke-width="0.7"/><circle cx="463.53" cy="327.04" r="2.65" fill="#3b5de7" stroke="#e8ecfb" stroke-width="0.7"/><circle cx="475.36" cy="330.34" r="2.65" fill="#3b5de7" stroke="#e8ecfb" stroke-width="0.7"/><circle cx="487.18" cy="333.64" r="2.65" fill="#3b5de7" stroke="#e8ecfb" stroke-width="0.7"/><circle cx="487.18" cy="336.66" r="2.65" fill="#3b5de7" stroke="#e8ecfb" stroke-width="0.7"/><circle cx="499.01" cy="330.34" r="2.65" fill="#3b5de7" stroke="#e8ecfb" stroke-width="0.7"/><circle cx="510.84" cy="336.66" r="2.65" fill="#3b5de7" stroke="#e8ecfb" stroke-width="0.7"/><circle cx="522.94" cy="310.53" r="2.65" fill="#3b5de7" stroke="#e8ecfb" stroke-width="0.7"/><circle cx="534.49" cy="333.64" r="2.65" fill="#3b5de7" stroke="#e8ecfb" stroke-width="0.7"/><circle cx="463.53" cy="294.03" r="2.65" fill="#45cb85" stroke="#e8ecfb" stroke-width="0.7"/><circle cx="475.36" cy="310.53" r="2.65" fill="#45cb85" stroke="#e8ecfb" stroke-width="0.7"/><circle cx="499.01" cy="300.63" r="2.65" fill="#45cb85" stroke="#e8ecfb" stroke-width="0.7"/><circle cx="499.01" cy="313.83" r="2.65" fill="#45cb85" stroke="#e8ecfb" stroke-width="0.7"/><circle cx="510.84" cy="307.23" r="2.65" fill="#45cb85" stroke="#e8ecfb" stroke-width="0.7"/><circle cx="522.94" cy="280.83" r="2.65" fill="#45cb85" stroke="#e8ecfb" stroke-width="0.7"/><circle cx="546.31" cy="323.73" r="2.65" fill="#45cb85" stroke="#e8ecfb" stroke-width="0.7"/><circle cx="569.97" cy="290.73" r="2.65" fill="#45cb85" stroke="#e8ecfb" stroke-width="0.7"/><circle cx="581.79" cy="297.33" r="2.65" fill="#45cb85" stroke="#e8ecfb" stroke-width="0.7"/><circle cx="593.62" cy="294.03" r="2.65" fill="#45cb85" stroke="#e8ecfb" stroke-width="0.7"/><circle cx="479.2" cy="261.6" r="2.4" fill="#3b5de7"/><text x="483.3" y="263.6" font-size="5.6" fill="#8590a5">Series A</text><circle cx="510" cy="261.6" r="2.4" fill="#45cb85"/><text x="514" y="263.6" font-size="5.6" fill="#8590a5">Series B</text></svg>
<div class="b" style="left:615.7px;top:232px;width:149.3px;height:127.6px;background:#3b5de7;border-radius:2px;box-shadow:0 1px 2.5px rgba(8,12,20,0.35);"></div>
<div class="t" style="top:240px;height:12px;line-height:12px;font-size:7.6px;color:#fff;font-weight:700;letter-spacing:-0.079px;left:624.3px;">2400 + New Users</div>
<div class="t" style="top:252px;height:10px;line-height:10px;font-size:6.2px;color:rgba(255,255,255,0.5);font-weight:400;letter-spacing:-0.04px;left:624.3px;">At vero eos et accusamus et iusto odio</div>
<div class="t" style="top:261px;height:10px;line-height:10px;font-size:6.2px;color:rgba(255,255,255,0.5);font-weight:400;letter-spacing:-0.011px;left:624.3px;">dignissimos ducimus</div>
<div class="b" style="left:624px;top:277px;width:32.6px;height:11.6px;box-sizing:border-box;border:0.8px solid #45cb85;border-radius:1.3px;"></div>
<div class="t" style="top:279px;height:9px;line-height:9px;font-size:5.2px;color:#45cb85;font-weight:400;letter-spacing:0.066px;left:540.43px;width:200px;text-align:center;">View more</div>
<svg class="b" style="left:0px;top:0px;" width="800" height="600" viewBox="0 0 800 600">
<line x1="672" y1="348.3" x2="756" y2="348.3" stroke="#7f95f3" stroke-width="0.7"/>
<line x1="675" y1="350.5" x2="698" y2="350.5" stroke="#7f95f3" stroke-width="0.6"/>
<line x1="707" y1="350" x2="730" y2="350" stroke="#6d86f0" stroke-width="0.5"/>
<path d="M676 347.5 C678 336 682 326 690 322 L701 321 C706 323 708 328 709 334 L716 330 L719 327 L722 329 L718 335 L709 342 L703 340 L701 347.5 Z" fill="#13b4a3"/>
<path d="M692.5 313 L692.5 321.5 Q695.5 324.5 699 321.5 L699.5 315 Z" fill="#f7c2a3"/>
<path d="M691.3 304 L703 303 L703.6 312.5 Q703 318 698.5 318.5 Q693.5 318 692 312 Z" fill="#f8c4aa"/>
<path d="M689.3 304.5 Q689 300.5 693 301.5 Q698 299 704.5 300.5 Q705.5 303.5 702 305.5 L695 306 L694.3 311 L691.5 311 Q689.5 308 689.3 304.5 Z" fill="#1d2556"/>
<path d="M721 324 L723.2 313.5 L727.8 314.3 L725.6 325 Z" fill="#4a517e"/>
<path d="M719.5 322 L723 319 L726 321 L724.5 326.5 L720.5 327.5 Z" fill="#f8c4aa"/>
<path d="M704 330.2 L728.5 330.2 L723.5 347.6 L699 347.6 Z" fill="#26256a"/>
<ellipse cx="713.8" cy="339" rx="2.2" ry="1.4" fill="#161b4a"/>
<rect x="686.5" y="346.2" width="13" height="1.4" rx="0.6" fill="#1f2560"/>
<rect x="725.5" y="340" width="6.4" height="7.6" fill="#f3f5fb"/>
<path d="M733 332.2 L745 331.2 L745 347.4 L733 347.4 Z" fill="#566299"/>
<path d="M733 332.2 L738 331.8 L738 338 L733 339 Z" fill="#7d8ac0"/>
<rect x="741.7" y="334" width="3.4" height="13.4" fill="#3e4878"/>
<rect x="745.7" y="331" width="5.6" height="16.5" fill="#f3aa1c"/>
<rect x="747.6" y="331" width="1" height="16.5" fill="#d98f0f"/>
</svg>
</section>
<section>
<div class="b" style="left:139.25px;top:372.5px;width:149px;height:130px;background:#1f293a;border-radius:2px;box-shadow:0 1px 2.5px rgba(8,12,20,0.35);"></div>
<div class="t" style="top:379px;height:11px;line-height:11px;font-size:6.6px;color:#f1f3f7;font-weight:700;letter-spacing:-0.265px;left:147.5px;">Overview</div>
<div class="t" style="top:398px;height:10px;line-height:10px;font-size:6.2px;color:#8590a5;font-weight:400;letter-spacing:-0.076px;left:147.5px;">New Visitors</div>
<div class="t" style="top:409px;height:13px;line-height:13px;font-size:9.4px;color:#f1f3f7;font-weight:400;letter-spacing:-0.256px;left:147.5px;-webkit-text-stroke:0.22px #f1f3f7;">3,524</div>
<div class="t" style="top:401px;height:10px;line-height:10px;font-size:5.8px;color:#8590a5;font-weight:400;letter-spacing:-0.011px;right:529.41px;text-align:right;">2.06 %</div>
<svg class="b" style="left:274.3px;top:402.6px;" width="5" height="5" viewBox="0 0 5 5"><path d="M2.5 4.6V0.8M0.8 2.4L2.5 0.7L4.2 2.4" fill="none" stroke="#45cb85" stroke-width="0.9"/></svg>
<div class="b" style="left:242.5px;top:416.5px;width:37.5px;height:2px;background:#2b3648;border-radius:1px;"></div>
<div class="b" style="left:242.5px;top:416.5px;width:23.25px;height:2px;background:#3b5de7;border-radius:1px;"></div>
<div class="b" style="left:147.5px;top:427.5px;width:132.5px;height:0.6px;background:#2c3749;"></div>
<div class="t" style="top:434px;height:10px;line-height:10px;font-size:6.2px;color:#8590a5;font-weight:400;letter-spacing:-0.085px;left:147.5px;">Product Views</div>
<div class="t" style="top:445px;height:13px;line-height:13px;font-size:9.4px;color:#f1f3f7;font-weight:400;letter-spacing:-0.131px;left:147.5px;-webkit-text-stroke:0.22px #f1f3f7;">2,465</div>
<div class="t" style="top:436px;height:10px;line-height:10px;font-size:5.8px;color:#8590a5;font-weight:400;letter-spacing:-0.111px;right:529.51px;text-align:right;">0.37 %</div>
<svg class="b" style="left:274.3px;top:438.40000000000003px;" width="5" height="5" viewBox="0 0 5 5"><path d="M2.5 4.6V0.8M0.8 2.4L2.5 0.7L4.2 2.4" fill="none" stroke="#45cb85" stroke-width="0.9"/></svg>
<div class="b" style="left:242.5px;top:452.3px;width:37.5px;height:2px;background:#2b3648;border-radius:1px;"></div>
<div class="b" style="left:242.5px;top:452.3px;width:18.0px;height:2px;background:#eeb902;border-radius:1px;"></div>
<div class="b" style="left:147.5px;top:464px;width:132.5px;height:0.6px;background:#2c3749;"></div>
<div class="t" style="top:470px;height:10px;line-height:10px;font-size:6.18px;color:#8590a5;font-weight:400;letter-spacing:-0.372px;left:147.5px;">Revenue</div>
<div class="t" style="top:481px;height:13px;line-height:13px;font-size:9.4px;color:#f1f3f7;font-weight:400;letter-spacing:-0.144px;left:147.5px;-webkit-text-stroke:0.22px #f1f3f7;">$ 4,653</div>
<div class="t" style="top:473px;height:10px;line-height:10px;font-size:5.54px;color:#8590a5;font-weight:400;letter-spacing:-0.348px;right:529.75px;text-align:right;">2.18 %</div>
<svg class="b" style="left:274.3px;top:474.6px;" width="5" height="5" viewBox="0 0 5 5"><path d="M2.5 4.6V0.8M0.8 2.4L2.5 0.7L4.2 2.4" fill="none" stroke="#45cb85" stroke-width="0.9"/></svg>
<div class="b" style="left:242.5px;top:488.5px;width:37.5px;height:2px;background:#2b3648;border-radius:1px;"></div>
<div class="b" style="left:242.5px;top:488.5px;width:29.25px;height:2px;background:#45cb85;border-radius:1px;"></div>
<div class="b" style="left:297.25px;top:372.5px;width:150px;height:130px;background:#1f293a;border-radius:2px;box-shadow:0 1px 2.5px rgba(8,12,20,0.35);"></div>
<div class="t" style="top:380px;height:10px;line-height:10px;font-size:6.46px;color:#f1f3f7;font-weight:700;letter-spacing:-0.396px;left:306.5px;">Reviews</div>
<div class="t" style="top:398px;height:12px;line-height:12px;font-size:8.2px;color:#3b5de7;font-weight:700;letter-spacing:0.456px;left:306.5px;">500</div>
<div class="t" style="top:398px;height:12px;line-height:12px;font-size:7.6px;color:#f1f3f7;font-weight:700;letter-spacing:-0.201px;left:321.6px;">+ Satisfied clients</div>
<svg class="b" style="left:306px;top:417.5px;" width="11" height="8" viewBox="0 0 11 8"><path d="M0.3 7.6V4.4Q0.3 1 3.6 0.6L4.2 1.8Q2.5 2.2 2.4 3.8H4.4V7.6ZM5.6 7.6V4.4Q5.6 1 8.9 0.6L9.5 1.8Q7.8 2.2 7.7 3.8H9.7V7.6Z" fill="#3b5de7"/></svg>
<div class="b" style="left:407.2px;top:416.2px;width:10px;height:10px;background:#242f59;border-radius:50%;"></div>
<div class="b" style="left:423.6px;top:416.2px;width:10px;height:10px;background:#242f59;border-radius:50%;"></div>
<svg class="b" style="left:410.5px;top:419.2px;" width="4" height="4" viewBox="0 0 4 4"><path d="M2.6 0.5L1 2L2.6 3.5" fill="none" stroke="#3b5de7" stroke-width="0.6"/></svg>
<svg class="b" style="left:426.7px;top:419.2px;" width="4" height="4" viewBox="0 0 4 4"><path d="M1.4 0.5L3 2L1.4 3.5" fill="none" stroke="#3b5de7" stroke-width="0.6"/></svg>
<div class="t" style="top:436px;height:10px;line-height:10px;font-size:6px;color:#8590a5;font-weight:400;letter-spacing:0.015px;left:306.5px;">To achieve this, it would be necessary to have</div>
<div class="t" style="top:445px;height:10px;line-height:10px;font-size:6px;color:#8590a5;font-weight:400;letter-spacing:0.04px;left:306.5px;">uniform grammar, pronunciation and more</div>
<div class="t" style="top:453px;height:10px;line-height:10px;font-size:6px;color:#8590a5;font-weight:400;letter-spacing:0.075px;left:306.5px;">common words</div>
<div class="b" style="left:306.5px;top:472.3px;width:17px;height:17px;background:#283463;border-radius:50%;"></div>
<div class="t" style="top:477px;height:9px;line-height:9px;font-size:5.4px;color:#3b5de7;font-weight:400;left:215.00px;width:200px;text-align:center;">J</div>
<div class="t" style="top:471px;height:11px;line-height:11px;font-size:6.6px;color:#f1f3f7;font-weight:700;letter-spacing:-0.006px;left:329.75px;">Jessie Mitchell</div>
<div class="t" style="top:482px;height:10px;line-height:10px;font-size:6px;color:#8590a5;font-weight:400;letter-spacing:-0.055px;left:329.75px;">CEO of ABC Company</div>
<div class="b" style="left:456.7px;top:372.5px;width:308.3px;height:130px;background:#1f293a;border-radius:2px;box-shadow:0 1px 2.5px rgba(8,12,20,0.35);"></div>
<div class="t" style="top:379px;height:11px;line-height:11px;font-size:6.6px;color:#f1f3f7;font-weight:700;letter-spacing:-0.274px;left:465.5px;">Revenue by location</div>
<svg class="b" style="left:0px;top:0px;" width="800" height="600" viewBox="0 0 800 600"><path d="M465.63 405.50 L468.44 404.94 L470.88 406.25 L472.38 404.94 L535.94 404.94 L536.88 404.00 L538.75 405.50 L543.44 407.00 L548.13 408.88 L550.38 409.63 L546.63 411.88 L544.75 414.13 L548.13 414.13 L551.88 413.00 L556.56 413.38 L561.25 415.25 L563.13 416.75 L557.88 416.75 L554.88 418.25 L553.75 420.88 L553.19 426.13 L554.31 430.25 L556.19 431.00 L557.69 426.13 L557.13 421.44 L558.63 417.69 L561.44 416.75 L564.06 418.63 L565.00 422.38 L566.88 421.81 L568.00 424.25 L566.69 428.00 L565.38 430.44 L570.63 429.13 L575.31 426.31 L578.50 424.63 L580.19 422.38 L583.75 420.88 L587.69 420.13 L589.38 417.69 L591.25 415.81 L595.00 415.25 L597.81 412.06 L599.69 410.94 L602.13 411.88 L603.44 416.75 L604.19 419.00 L600.81 421.44 L598.56 423.31 L596.88 426.13 L599.31 427.06 L597.81 428.56 L594.06 430.06 L591.25 431.94 L589.38 433.81 L588.44 437.38 L585.81 440.19 L584.69 443.19 L583.75 445.81 L586.00 447.88 L583.75 451.63 L580.00 455.38 L576.25 459.13 L573.44 462.88 L572.50 466.63 L574.00 471.31 L573.44 476.00 L572.13 477.88 L570.44 476.75 L568.75 472.06 L566.88 468.31 L564.06 465.50 L559.38 464.00 L553.75 464.75 L550.00 464.00 L547.19 466.06 L544.38 467.19 L540.63 466.63 L537.81 465.69 L534.06 468.50 L531.44 472.25 L531.06 475.44 L529.00 474.88 L526.56 470.38 L523.75 466.63 L520.94 464.75 L518.13 467.19 L515.31 464.75 L513.44 461.00 L509.13 459.13 L504.06 459.13 L503.13 458.00 L494.69 457.81 L486.25 454.06 L480.63 452.56 L478.75 449.75 L475.00 446.00 L471.63 440.38 L469.38 434.75 L467.88 430.06 L467.13 424.44 L467.50 418.81 L467.13 413.19 L466.00 409.25 Z" fill="#556ee6"/><path d="M478.75 470.19 L482.50 467.00 L488.13 466.44 L490.94 467.75 L491.50 474.88 L493.75 478.63 L497.88 483.69 L496.00 483.50 L491.88 480.69 L488.13 479.75 L485.31 481.63 L481.38 484.25 L483.44 480.50 L479.69 478.25 L480.63 475.81 L478.38 473.94 Z" fill="#556ee6"/><circle cx="501.63" cy="470.19" r="0.6" fill="#556ee6"/><circle cx="505.94" cy="473.00" r="0.8" fill="#556ee6"/><circle cx="509.13" cy="475.25" r="0.8" fill="#556ee6"/><circle cx="513.06" cy="478.25" r="1.6" fill="#556ee6"/><line x1="466.56" y1="413.94" x2="484.38" y2="414.50" stroke="#3f54b4" stroke-width="0.35"/><line x1="467.50" y1="422.38" x2="490.94" y2="422.38" stroke="#3f54b4" stroke-width="0.35"/><line x1="484.38" y1="405.13" x2="484.38" y2="414.50" stroke="#3f54b4" stroke-width="0.35"/><line x1="484.38" y1="414.50" x2="486.25" y2="422.38" stroke="#3f54b4" stroke-width="0.35"/><line x1="490.94" y1="417.69" x2="490.94" y2="444.88" stroke="#3f54b4" stroke-width="0.35"/><line x1="478.75" y1="431.75" x2="488.13" y2="448.63" stroke="#3f54b4" stroke-width="0.35"/><line x1="488.13" y1="448.63" x2="486.25" y2="453.88" stroke="#3f54b4" stroke-width="0.35"/><line x1="490.94" y1="417.69" x2="498.44" y2="420.13" stroke="#3f54b4" stroke-width="0.35"/><line x1="498.44" y1="420.13" x2="515.31" y2="420.13" stroke="#3f54b4" stroke-width="0.35"/><line x1="515.31" y1="405.13" x2="515.31" y2="447.13" stroke="#3f54b4" stroke-width="0.35"/><line x1="515.31" y1="416.75" x2="534.06" y2="416.75" stroke="#3f54b4" stroke-width="0.35"/><line x1="515.31" y1="426.13" x2="535.00" y2="427.06" stroke="#3f54b4" stroke-width="0.35"/><line x1="498.44" y1="420.13" x2="498.44" y2="432.69" stroke="#3f54b4" stroke-width="0.35"/><line x1="490.94" y1="432.69" x2="520.00" y2="432.69" stroke="#3f54b4" stroke-width="0.35"/><line x1="503.69" y1="432.69" x2="503.69" y2="458.94" stroke="#3f54b4" stroke-width="0.35"/><line x1="520.00" y1="432.69" x2="520.00" y2="444.88" stroke="#3f54b4" stroke-width="0.35"/><line x1="520.00" y1="434.56" x2="538.75" y2="435.50" stroke="#3f54b4" stroke-width="0.35"/><line x1="490.94" y1="444.88" x2="540.63" y2="445.25" stroke="#3f54b4" stroke-width="0.35"/><line x1="524.69" y1="447.13" x2="524.69" y2="453.31" stroke="#3f54b4" stroke-width="0.35"/><line x1="515.31" y1="447.13" x2="524.69" y2="447.13" stroke="#3f54b4" stroke-width="0.35"/><line x1="524.69" y1="453.31" x2="540.63" y2="455.19" stroke="#3f54b4" stroke-width="0.35"/><line x1="540.63" y1="444.88" x2="540.63" y2="466.63" stroke="#3f54b4" stroke-width="0.35"/><line x1="538.75" y1="435.50" x2="540.63" y2="444.88" stroke="#3f54b4" stroke-width="0.35"/><line x1="535.00" y1="427.06" x2="538.75" y2="435.50" stroke="#3f54b4" stroke-width="0.35"/><line x1="534.06" y1="405.13" x2="535.00" y2="427.06" stroke="#3f54b4" stroke-width="0.35"/><line x1="535.00" y1="426.13" x2="550.00" y2="426.13" stroke="#3f54b4" stroke-width="0.35"/><line x1="535.94" y1="435.13" x2="550.94" y2="435.50" stroke="#3f54b4" stroke-width="0.35"/><line x1="540.63" y1="447.69" x2="553.75" y2="447.13" stroke="#3f54b4" stroke-width="0.35"/><line x1="540.63" y1="456.50" x2="550.00" y2="456.50" stroke="#3f54b4" stroke-width="0.35"/><line x1="550.00" y1="447.13" x2="550.00" y2="464.00" stroke="#3f54b4" stroke-width="0.35"/><line x1="555.63" y1="452.38" x2="555.63" y2="464.38" stroke="#3f54b4" stroke-width="0.35"/><line x1="563.13" y1="452.38" x2="565.00" y2="464.00" stroke="#3f54b4" stroke-width="0.35"/><line x1="550.00" y1="452.38" x2="576.25" y2="450.50" stroke="#3f54b4" stroke-width="0.35"/><line x1="551.88" y1="447.13" x2="580.00" y2="444.50" stroke="#3f54b4" stroke-width="0.35"/><line x1="550.00" y1="426.13" x2="553.75" y2="430.25" stroke="#3f54b4" stroke-width="0.35"/><line x1="550.94" y1="435.50" x2="551.88" y2="447.13" stroke="#3f54b4" stroke-width="0.35"/><line x1="553.75" y1="430.25" x2="553.75" y2="444.88" stroke="#3f54b4" stroke-width="0.35"/><line x1="560.31" y1="431.38" x2="560.31" y2="443.00" stroke="#3f54b4" stroke-width="0.35"/><line x1="565.94" y1="430.25" x2="570.63" y2="438.31" stroke="#3f54b4" stroke-width="0.35"/><line x1="570.63" y1="429.13" x2="570.63" y2="438.31" stroke="#3f54b4" stroke-width="0.35"/><line x1="570.63" y1="436.44" x2="587.50" y2="436.44" stroke="#3f54b4" stroke-width="0.35"/><line x1="570.63" y1="432.69" x2="589.38" y2="431.75" stroke="#3f54b4" stroke-width="0.35"/><line x1="576.25" y1="450.50" x2="580.00" y2="455.38" stroke="#3f54b4" stroke-width="0.35"/><line x1="565.00" y1="463.63" x2="572.50" y2="464.00" stroke="#3f54b4" stroke-width="0.35"/><line x1="591.25" y1="415.81" x2="591.25" y2="431.94" stroke="#3f54b4" stroke-width="0.35"/><line x1="595.00" y1="415.25" x2="595.94" y2="426.13" stroke="#3f54b4" stroke-width="0.35"/><line x1="597.81" y1="412.06" x2="598.75" y2="423.31" stroke="#3f54b4" stroke-width="0.35"/><line x1="570.63" y1="438.31" x2="583.75" y2="445.81" stroke="#3f54b4" stroke-width="0.35"/><line x1="574.38" y1="444.50" x2="584.69" y2="443.19" stroke="#3f54b4" stroke-width="0.35"/><ellipse cx="494.69" cy="432.13" rx="0.9" ry="0.8" fill="#1a2440"/><rect x="470.7" y="403.4" width="4.8" height="4.8" rx="0.6" fill="#4b4a4c"/><rect x="470.7" y="411.6" width="4.8" height="4.8" rx="0.6" fill="#4b4a4c"/><text x="473.1" y="407.6" font-size="4.5" fill="#fff" text-anchor="middle">+</text><text x="473.1" y="415.6" font-size="4.5" fill="#fff" text-anchor="middle">−</text></svg>
<div class="t" style="top:398px;height:10px;line-height:10px;font-size:6px;color:#8590a5;font-weight:400;letter-spacing:-0.036px;left:641px;">Last month Revenue</div>
<div class="t" style="top:420px;height:10px;line-height:10px;font-size:6px;color:#8590a5;font-weight:400;letter-spacing:0.017px;left:641px;">California</div>
<div class="t" style="top:420px;height:10px;line-height:10px;font-size:5.8px;color:#8590a5;font-weight:400;letter-spacing:-0.211px;right:52.71px;text-align:right;">2.52 %</div>
<svg class="b" style="left:751.2px;top:422.4px;" width="5" height="5" viewBox="0 0 5 5"><path d="M2.5 4.6V0.8M0.8 2.4L2.5 0.7L4.2 2.4" fill="none" stroke="#45cb85" stroke-width="0.9"/></svg>
<div class="t" style="top:432px;height:12px;line-height:12px;font-size:7.6px;color:#f1f3f7;font-weight:700;letter-spacing:-0.018px;left:641px;">$ 2,256</div>
<div class="b" style="left:641px;top:448.3px;width:115px;height:0.6px;background:#2c3749;"></div>
<div class="t" style="top:455px;height:10px;line-height:10px;font-size:6px;color:#8590a5;font-weight:400;letter-spacing:-0.086px;left:641px;">Nevada</div>
<div class="t" style="top:455px;height:10px;line-height:10px;font-size:5.78px;color:#8590a5;font-weight:400;letter-spacing:-0.348px;right:52.85px;text-align:right;">1.26 %</div>
<svg class="b" style="left:751.2px;top:457.0px;" width="5" height="5" viewBox="0 0 5 5"><path d="M2.5 4.6V0.8M0.8 2.4L2.5 0.7L4.2 2.4" fill="none" stroke="#45cb85" stroke-width="0.9"/></svg>
<div class="t" style="top:466px;height:12px;line-height:12px;font-size:7.6px;color:#f1f3f7;font-weight:700;letter-spacing:-0.31px;left:641px;">$ 1,853</div>
</section>
<section>
<div class="b" style="left:139.25px;top:512.3px;width:201.3px;height:100px;background:#1f293a;border-radius:2px;box-shadow:0 1px 2.5px rgba(8,12,20,0.35);"></div>
<div class="t" style="top:519px;height:11px;line-height:11px;font-size:6.6px;color:#f1f3f7;font-weight:700;letter-spacing:-0.275px;left:147.4px;">Inbox</div>
<svg class="b" style="left:147.3px;top:539.3000000000001px;" width="17" height="17" viewBox="0 0 24 24"><defs><clipPath id="cpp"><circle cx="12" cy="12" r="12"/></clipPath></defs><g clip-path="url(#cpp)"><rect width="24" height="24" fill="#2cc7c9"/><path d="M0 6L9 9L10 24H0Z" fill="#ee5aa6"/><path d="M15 2L24 4V17L16 15Z" fill="#c9e36a"/><path d="M14 0H24V6L15 4Z" fill="#31b7e8"/><path d="M2 24Q3 17.5 8.5 16.8H15.5Q21 17.5 22 24Z" fill="#e24a5a"/><path d="M3 21H21V22.6H3Z" fill="#3b6fe0"/><ellipse cx="12" cy="9.6" rx="4.6" ry="6" fill="#5f3b28"/><path d="M7.3 8Q7.2 2.6 12 2.6Q16.8 2.6 16.7 8Q15 5.2 12 5.2Q9 5.2 7.3 8Z" fill="#17110f"/><path d="M7.5 10.5Q7.8 17.2 12 17.2Q16.2 17.2 16.5 10.5Q15.4 13.4 12 13.2Q8.6 13.4 7.5 10.5Z" fill="#17110f"/></g></svg>
<div class="t" style="top:537px;height:11px;line-height:11px;font-size:6.8px;color:#f1f3f7;font-weight:700;letter-spacing:-0.387px;left:170.7px;">Paul</div>
<div class="t" style="top:548px;height:10px;line-height:10px;font-size:6px;color:#8590a5;font-weight:400;letter-spacing:-0.04px;left:170.7px;">Hey! there I'm available</div>
<div class="t" style="top:538px;height:9px;line-height:9px;font-size:5.01px;color:#8590a5;font-weight:400;letter-spacing:0.294px;right:466.71px;text-align:right;">05 min</div>
<div class="b" style="left:147.5px;top:562.8px;width:185.5px;height:0.6px;background:#2c3749;"></div>
<svg class="b" style="left:147.3px;top:569.8000000000001px;" width="17" height="17" viewBox="0 0 24 24"><defs><clipPath id="cpm"><circle cx="12" cy="12" r="12"/></clipPath></defs><g clip-path="url(#cpm)"><rect width="24" height="24" fill="#d6cde0"/><path d="M6 24Q4.6 12 7 7Q9 2.2 13 2.4Q17.6 2.8 18.4 8Q19.4 15 18 24Z" fill="#8a3a2d"/><ellipse cx="12.8" cy="9.8" rx="3.6" ry="4.6" fill="#f1c9b6"/><path d="M9.2 9Q9.6 4.6 13 4.6Q16.4 4.8 16.6 9Q14.6 6.6 12.6 6.8Q10.4 7 9.2 9Z" fill="#7c3226"/><path d="M9 24L9.6 17.5Q12.8 15.2 15.6 17.5L16.6 24Z" fill="#efc5b2"/><path d="M11.2 13.6H14.4V17H11.2Z" fill="#eabfab"/></g></svg>
<div class="t" style="top:568px;height:11px;line-height:11px;font-size:6.8px;color:#f1f3f7;font-weight:700;letter-spacing:0.042px;left:170.7px;">Mary</div>
<div class="t" style="top:578px;height:10px;line-height:10px;font-size:6px;color:#8590a5;font-weight:400;letter-spacing:-0.028px;left:170.7px;">This theme is awesome!</div>
<div class="t" style="top:569px;height:9px;line-height:9px;font-size:4.9px;color:#8590a5;font-weight:400;letter-spacing:-0.082px;right:467.08px;text-align:right;">12 min</div>
<div class="b" style="left:147.5px;top:593.4px;width:185.5px;height:0.6px;background:#2c3749;"></div>
<div class="b" style="left:351px;top:512.3px;width:414px;height:100px;background:#1f293a;border-radius:2px;box-shadow:0 1px 2.5px rgba(8,12,20,0.35);"></div>
<div class="t" style="top:519px;height:11px;line-height:11px;font-size:6.6px;color:#f1f3f7;font-weight:700;letter-spacing:-0.222px;left:359.3px;">Latest Transactions</div>
<div class="b" style="left:359.5px;top:538.8px;width:397px;height:0.6px;background:#2c3749;"></div>
<div class="b" style="left:359.5px;top:558.2px;width:397px;height:0.6px;background:#2c3749;"></div>
<div class="b" style="left:359.5px;top:580.5px;width:397px;height:0.6px;background:#2c3749;"></div>
<div class="t" style="top:544px;height:10px;line-height:10px;font-size:6px;color:#8590a5;font-weight:400;letter-spacing:0.075px;left:364.2px;">Date</div>
<div class="t" style="top:544px;height:10px;line-height:10px;font-size:6px;color:#8590a5;font-weight:400;letter-spacing:-0.202px;left:434px;">Id no.</div>
<div class="t" style="top:544px;height:10px;line-height:10px;font-size:6px;color:#8590a5;font-weight:400;letter-spacing:0.011px;left:493.5px;">Billing Name</div>
<div class="t" style="top:544px;height:10px;line-height:10px;font-size:6px;color:#8590a5;font-weight:400;letter-spacing:0.164px;left:582px;">Amount</div>
<div class="t" style="top:544px;height:10px;line-height:10px;font-size:6px;color:#8590a5;font-weight:400;letter-spacing:0.065px;left:637.5px;">Payment Status</div>
<div class="t" style="top:564px;height:10px;line-height:10px;font-size:6px;color:#8590a5;font-weight:400;letter-spacing:-0.037px;left:364.2px;">15/01/2020</div>
<div class="t" style="top:564px;height:10px;line-height:10px;font-size:6px;color:#8590a5;font-weight:400;letter-spacing:-0.115px;left:434px;">#SK1235</div>
<div class="t" style="top:564px;height:10px;line-height:10px;font-size:6px;color:#8590a5;font-weight:400;letter-spacing:-0.023px;left:493.5px;">Werner Berlin</div>
<div class="t" style="top:564px;height:10px;line-height:10px;font-size:5.97px;color:#8590a5;font-weight:400;letter-spacing:-0.36px;left:582px;">$ 125</div>
<div class="b" style="left:637.5px;top:566.0px;width:13.4px;height:6.4px;background:rgba(69,203,133,0.18);border-radius:1px;"></div>
<div class="t" style="top:565px;height:9px;line-height:9px;font-size:4.6px;color:#45cb85;font-weight:700;letter-spacing:-0.038px;left:544.18px;width:200px;text-align:center;">Paid</div>
<div class="b" style="left:710.7px;top:563.7px;width:19px;height:11.2px;background:#3b5de7;border-radius:1.5px;"></div>
<div class="t" style="top:565px;height:9px;line-height:9px;font-size:5.15px;color:#fff;font-weight:700;letter-spacing:-0.312px;left:620.04px;width:200px;text-align:center;">View</div>
<div class="t" style="top:586px;height:10px;line-height:10px;font-size:6px;color:#8590a5;font-weight:400;letter-spacing:0.024px;left:364.2px;">16/01/2020</div>
<div class="t" style="top:586px;height:10px;line-height:10px;font-size:6px;color:#8590a5;font-weight:400;letter-spacing:-0.082px;left:434px;">#SK1236</div>
<div class="t" style="top:586px;height:10px;line-height:10px;font-size:6px;color:#8590a5;font-weight:400;letter-spacing:0.015px;left:493.5px;">Robert Jordan</div>
<div class="t" style="top:587px;height:9px;line-height:9px;font-size:5.33px;color:#8590a5;font-weight:400;letter-spacing:-0.36px;left:582px;">$ 118</div>
<div class="b" style="left:637.5px;top:588.0px;width:32px;height:6.4px;background:rgba(255,113,91,0.2);border-radius:1px;"></div>
<div class="t" style="top:587px;height:9px;line-height:9px;font-size:4.6px;color:#ff715b;font-weight:700;letter-spacing:0.163px;left:553.58px;width:200px;text-align:center;">Chargeback</div>
<div class="b" style="left:710.7px;top:585.7px;width:19px;height:11.2px;background:#3b5de7;border-radius:1.5px;"></div>
<div class="t" style="top:587px;height:9px;line-height:9px;font-size:5.15px;color:#fff;font-weight:700;letter-spacing:-0.312px;left:620.04px;width:200px;text-align:center;">View</div>
</section></main>
</body></html>
